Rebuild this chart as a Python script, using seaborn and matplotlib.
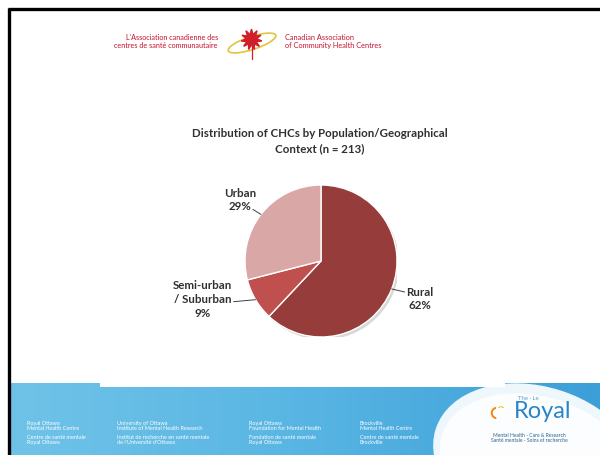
import numpy as np
import matplotlib
matplotlib.use("Agg")
import matplotlib.pyplot as plt
from matplotlib.patches import Rectangle, Ellipse, Circle, Wedge
import seaborn as sns

# chart data
categories = ["Rural", "Semi-urban\n/ Suburban", "Urban"]
shares = [62, 9, 29]
colors = ["#963d3b", "#c0504d", "#d9a7a6"]
title = "Distribution of CHCs by Population/Geographical\nContext (n = 213)"

# slide decoration text
header_fr = "L'Association canadienne des\ncentres de santé communautaire"
header_en = "Canadian Association\nof Community Health Centres"
footer_cols = [
    ("Royal Ottawa\nMental Health Centre", "Centre de santé mentale\nRoyal Ottawa"),
    ("University of Ottawa\nInstitute of Mental Health Research",
     "Institut de recherche en santé mentale\nde l'Université d'Ottawa"),
    ("Royal Ottawa\nFoundation for Mental Health", "Fondation de santé mentale\nRoyal Ottawa"),
    ("Brockville\nMental Health Centre", "Centre de santé mentale\nBrockville"),
]
footer_x = [27, 117, 249, 360]

sns.set_theme(style="white")
plt.rcParams['font.family'] = ['Lato', 'DejaVu Sans']

fig = plt.figure(figsize=(6, 4.55), dpi=100)
fig.patch.set_facecolor("white")

# background axes in pixel coordinates
bg = fig.add_axes([0, 0, 1, 1])
bg.set_xlim(0, 600)
bg.set_ylim(455, 0)
bg.axis("off")

# footer band with gradient
grad = np.linspace(0, 1, 256).reshape(1, -1)
cmap = matplotlib.colors.LinearSegmentedColormap.from_list("ft", ["#70c3e8", "#58b5e3", "#3c9fd8"])
bg.imshow(grad, extent=(8, 600, 455, 383), aspect="auto", cmap=cmap, zorder=1)
# white swoosh for the logo
bg.add_patch(Ellipse((538, 462), 215, 150, angle=18, facecolor="#eef7fc", edgecolor="none", zorder=2))
bg.add_patch(Ellipse((538, 466), 202, 138, angle=18, facecolor="white", edgecolor="none", zorder=2, alpha=0.8))
# chart area rectangle
bg.add_patch(Rectangle((100, 95), 405, 292, facecolor="white", edgecolor="none", zorder=3))

# black frame
bg.plot([8, 600], [8.5, 8.5], color="black", lw=2.4, zorder=6, solid_capstyle="butt")
bg.plot([8.5, 8.5], [8, 455], color="black", lw=2.4, zorder=6, solid_capstyle="butt")

# header
red = "#c8102e"
bg.text(218, 41.5, header_fr, ha="right", va="center", fontsize=5.2, color=red, linespacing=1.2, zorder=5)
bg.text(285, 41.5, header_en, ha="left", va="center", fontsize=5.3, color=red, linespacing=1.2, zorder=5)
bg.add_patch(Ellipse((252, 43), 50, 13, angle=-18, facecolor="none", edgecolor="#e2c53a", lw=1.2, zorder=5))
bg.plot([251], [39], marker=(11, 1, 0), markersize=15, color="#d01f2a", zorder=5)
bg.plot([252, 252], [44, 59], color="#d01f2a", lw=0.9, zorder=5)

# footer text
for x, (a, b) in zip(footer_x, footer_cols):
    bg.text(x, 426, a, ha="left", va="center", fontsize=4.0, color="white", linespacing=1.15, zorder=5)
    bg.text(x, 440, b, ha="left", va="center", fontsize=4.0, color="white", linespacing=1.15, zorder=5)

# Royal logo
bg.text(528, 399, "The · Le", ha="center", va="center", fontsize=4.3, color="#5a9bd0", zorder=5)
bg.text(543, 412, "Royal", ha="center", va="center", fontsize=17, color="#2a84c6", zorder=5)
bg.add_patch(Wedge((497, 413), 7, 90, 270, width=3.5, facecolor="#f08a1c", zorder=5))
bg.add_patch(Wedge((501, 410), 4.5, 200, 340, width=2.5, facecolor="#f7c21a", zorder=5))
bg.text(529, 438, "Mental Health - Care & Research\nSanté mentale - Soins et recherche",
        ha="center", va="center", fontsize=3.6, color="#2b5f8a", linespacing=1.2, zorder=5)

# title
bg.text(320, 141.5, title, ha="center", va="center", fontsize=8.3, fontweight="bold",
        color="#303030", linespacing=1.45, zorder=5)

# pie axes: centre (321, 261), radius 76 px
cx, cy, r = 321, 261, 76
ax = fig.add_axes([(cx - r) / 600, (455 - cy - r) / 455, 2 * r / 600, 2 * r / 455])
ax.set_zorder(4)
ax.add_patch(Circle((0.03, -0.035), 1.0, facecolor="#bfbfbf", edgecolor="none", alpha=0.6, zorder=0))
wedges, _ = ax.pie(shares, colors=colors, startangle=90, counterclock=False, radius=1,
                   wedgeprops=dict(edgecolor="white", linewidth=1.0))
for w in wedges:
    w.set_zorder(2)
ax.set_xlim(-1, 1)
ax.set_ylim(-1, 1)
ax.axis("off")

# labels with leader lines (offsets in pixels from the wedge edge, y up)
text_off = [(28, -10), (-53, 0), (-21, 14.5)]
line_off = [(13, -3), (-22, -2), (-8, 5)]
for w, name, val, t_off, l_off in zip(wedges, categories, shares, text_off, line_off):
    ang = np.deg2rad((w.theta1 + w.theta2) / 2)
    x0, y0 = np.cos(ang), np.sin(ang)
    ax.annotate("", xy=(x0, y0), xytext=l_off, textcoords="offset pixels",
                arrowprops=dict(arrowstyle="-", color="#404040", lw=0.7, shrinkA=0, shrinkB=0),
                annotation_clip=False)
    ax.annotate(f"{name}\n{val}%", xy=(x0, y0), xytext=t_off, textcoords="offset pixels",
                ha="center", va="center", fontsize=8.3, fontweight="bold", color="#303030",
                linespacing=1.3, annotation_clip=False)

fig.savefig("out.png", dpi=100, facecolor="white")
